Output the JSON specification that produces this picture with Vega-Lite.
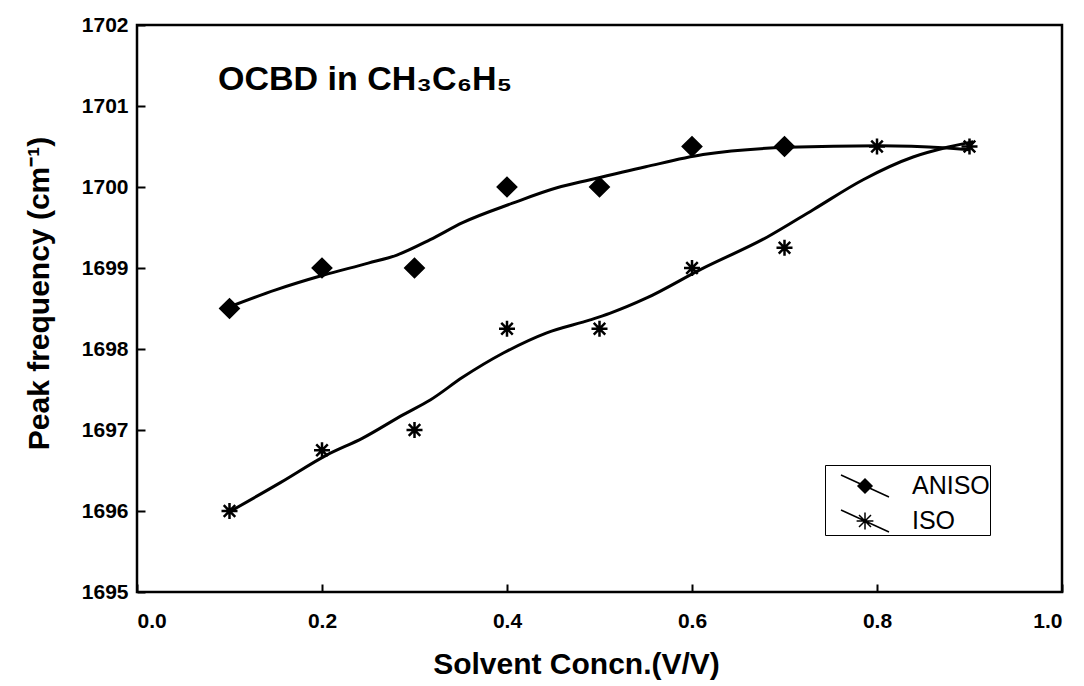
{
  "$schema": "https://vega.github.io/schema/vega-lite/v6.json",
  "width": 925,
  "height": 567,
  "autosize": {"type": "none"},
  "padding": {"left": 137, "top": 25, "right": 22, "bottom": 94},
  "background": "white",
  "datasets": {
    "points": [
      {"series": "ANISO", "conc": 0.1, "freq": 1698.5},
      {"series": "ANISO", "conc": 0.2, "freq": 1699.0},
      {"series": "ANISO", "conc": 0.3, "freq": 1699.0},
      {"series": "ANISO", "conc": 0.4, "freq": 1700.0},
      {"series": "ANISO", "conc": 0.5, "freq": 1700.0},
      {"series": "ANISO", "conc": 0.6, "freq": 1700.5},
      {"series": "ANISO", "conc": 0.7, "freq": 1700.5},
      {"series": "ISO", "conc": 0.1, "freq": 1696.0},
      {"series": "ISO", "conc": 0.2, "freq": 1696.75},
      {"series": "ISO", "conc": 0.3, "freq": 1697.0},
      {"series": "ISO", "conc": 0.4, "freq": 1698.25},
      {"series": "ISO", "conc": 0.5, "freq": 1698.25},
      {"series": "ISO", "conc": 0.6, "freq": 1699.0},
      {"series": "ISO", "conc": 0.7, "freq": 1699.25},
      {"series": "ISO", "conc": 0.8, "freq": 1700.5},
      {"series": "ISO", "conc": 0.9, "freq": 1700.5}
    ],
    "curves": [
      {"series": "ANISO", "conc": 0.1, "freq": 1698.52},
      {"series": "ANISO", "conc": 0.15, "freq": 1698.73},
      {"series": "ANISO", "conc": 0.201, "freq": 1698.91},
      {"series": "ANISO", "conc": 0.25, "freq": 1699.06},
      {"series": "ANISO", "conc": 0.281, "freq": 1699.16},
      {"series": "ANISO", "conc": 0.317, "freq": 1699.35},
      {"series": "ANISO", "conc": 0.352, "freq": 1699.56},
      {"series": "ANISO", "conc": 0.406, "freq": 1699.8},
      {"series": "ANISO", "conc": 0.454, "freq": 1699.99},
      {"series": "ANISO", "conc": 0.49, "freq": 1700.09},
      {"series": "ANISO", "conc": 0.55, "freq": 1700.25},
      {"series": "ANISO", "conc": 0.612, "freq": 1700.4},
      {"series": "ANISO", "conc": 0.703, "freq": 1700.49},
      {"series": "ANISO", "conc": 0.803, "freq": 1700.51},
      {"series": "ANISO", "conc": 0.876, "freq": 1700.48},
      {"series": "ANISO", "conc": 0.9, "freq": 1700.46},
      {"series": "ISO", "conc": 0.103, "freq": 1696.01},
      {"series": "ISO", "conc": 0.155, "freq": 1696.35},
      {"series": "ISO", "conc": 0.205, "freq": 1696.69},
      {"series": "ISO", "conc": 0.244, "freq": 1696.9},
      {"series": "ISO", "conc": 0.288, "freq": 1697.19},
      {"series": "ISO", "conc": 0.317, "freq": 1697.37},
      {"series": "ISO", "conc": 0.352, "freq": 1697.65},
      {"series": "ISO", "conc": 0.396, "freq": 1697.95},
      {"series": "ISO", "conc": 0.443, "freq": 1698.2},
      {"series": "ISO", "conc": 0.49, "freq": 1698.36},
      {"series": "ISO", "conc": 0.511, "freq": 1698.44},
      {"series": "ISO", "conc": 0.551, "freq": 1698.63},
      {"series": "ISO", "conc": 0.609, "freq": 1698.98},
      {"series": "ISO", "conc": 0.681, "freq": 1699.38},
      {"series": "ISO", "conc": 0.731, "freq": 1699.72},
      {"series": "ISO", "conc": 0.785, "freq": 1700.09},
      {"series": "ISO", "conc": 0.839, "freq": 1700.37},
      {"series": "ISO", "conc": 0.876, "freq": 1700.49},
      {"series": "ISO", "conc": 0.904, "freq": 1700.56}
    ],
    "notes": [
      {"label": "OCBD in CH₃C₆H₅", "conc": 0.0876, "freq": 1701.2}
    ]
  },
  "layer": [
    {
      "data": {"name": "curves"},
      "mark": {"type": "line", "color": "black", "strokeWidth": 3, "interpolate": "monotone"},
      "encoding": {
        "x": {
          "field": "conc",
          "type": "quantitative",
          "scale": {"domain": [0, 1], "nice": false, "zero": false},
          "axis": {
            "title": "Solvent Concn.(V/V)",
            "values": [0, 0.2, 0.4, 0.6, 0.8, 1.0],
            "format": ".1f",
            "offset": -8,
            "ticks": true,
            "tickSize": 8,
            "tickWidth": 2,
            "tickColor": "black",
            "labelPadding": 18,
            "titlePadding": 18,
            "titleX": 439
          }
        },
        "y": {
          "field": "freq",
          "type": "quantitative",
          "scale": {"domain": [1695, 1702], "nice": false, "zero": false},
          "axis": {
            "title": "Peak frequency (cm⁻¹)",
            "values": [1695, 1696, 1697, 1698, 1699, 1700, 1701, 1702],
            "format": "d",
            "offset": -8,
            "ticks": true,
            "tickSize": 8,
            "tickWidth": 2,
            "tickColor": "black",
            "labelPadding": 9,
            "titlePadding": 27,
            "titleY": 268
          }
        },
        "detail": {"field": "series", "type": "nominal"}
      }
    },
    {
      "data": {"name": "points"},
      "mark": {"type": "point", "fill": "black", "stroke": "black", "strokeWidth": 2.5, "opacity": 1},
      "encoding": {
        "x": {"field": "conc", "type": "quantitative"},
        "y": {"field": "freq", "type": "quantitative"},
        "shape": {
          "field": "series",
          "type": "nominal",
          "scale": {"domain": ["ANISO", "ISO"], "range": ["diamond", "M0,-1L0,1M-1,0L1,0M-0.72,-0.72L0.72,0.72M-0.72,0.72L0.72,-0.72"]},
          "legend": null
        },
        "size": {
          "field": "series",
          "type": "nominal",
          "scale": {"domain": ["ANISO", "ISO"], "range": [330, 256]},
          "legend": null
        }
      }
    },
    {
      "data": {"name": "points"},
      "mark": {"type": "point", "fill": "black", "stroke": "black", "opacity": 0},
      "encoding": {
        "x": {"field": "conc", "type": "quantitative"},
        "y": {"field": "freq", "type": "quantitative"},
        "shape": {
          "field": "series",
          "type": "nominal",
          "scale": {"domain": ["ANISO", "ISO"], "range": [
            "M-0.25,-0.55L2.15,0.55M0.6,0L0.95,-0.35L1.3,0L0.95,0.35Z",
            "M-0.25,-0.55L2.15,0.55M0.95,-0.42L0.95,0.42M0.53,0L1.37,0M0.65,-0.3L1.25,0.3M0.65,0.3L1.25,-0.3"
          ]},
          "legend": {
            "title": null,
            "orient": "none",
            "legendX": 688,
            "legendY": 440,
            "padding": 0,
            "strokeColor": "black",
            "fillColor": "white",
            "symbolSize": 1600,
            "labelFont": "Liberation Sans",
            "labelFontSize": 25,
            "labelColor": "black",
            "labelOffset": 45,
            "rowPadding": 0,
            "encode": {
              "symbols": {
                "update": {
                  "fill": {"value": "black"},
                  "stroke": {"value": "black"},
                  "strokeWidth": {"value": 2.5},
                  "opacity": {"value": 1},
                  "fillOpacity": {"value": 1},
                  "strokeOpacity": {"value": 1}
                }
              }
            }
          }
        }
      }
    },
    {
      "data": {"name": "notes"},
      "mark": {"type": "text", "align": "left", "baseline": "alphabetic", "font": "Liberation Sans", "fontWeight": "bold", "fontSize": 34, "color": "black"},
      "encoding": {
        "x": {"field": "conc", "type": "quantitative"},
        "y": {"field": "freq", "type": "quantitative"},
        "text": {"field": "label", "type": "nominal"}
      }
    }
  ],
  "resolve": {"scale": {"shape": "independent", "size": "independent"}, "legend": {"shape": "independent"}},
  "config": {
    "view": {"stroke": "black", "strokeWidth": 2.5},
    "axis": {
      "domain": false,
      "grid": false,
      "labelFont": "Liberation Sans",
      "labelFontWeight": "bold",
      "labelFontSize": 21,
      "labelColor": "black",
      "titleFont": "Liberation Sans",
      "titleFontWeight": "bold",
      "titleFontSize": 30,
      "titleColor": "black"
    }
  }
}
